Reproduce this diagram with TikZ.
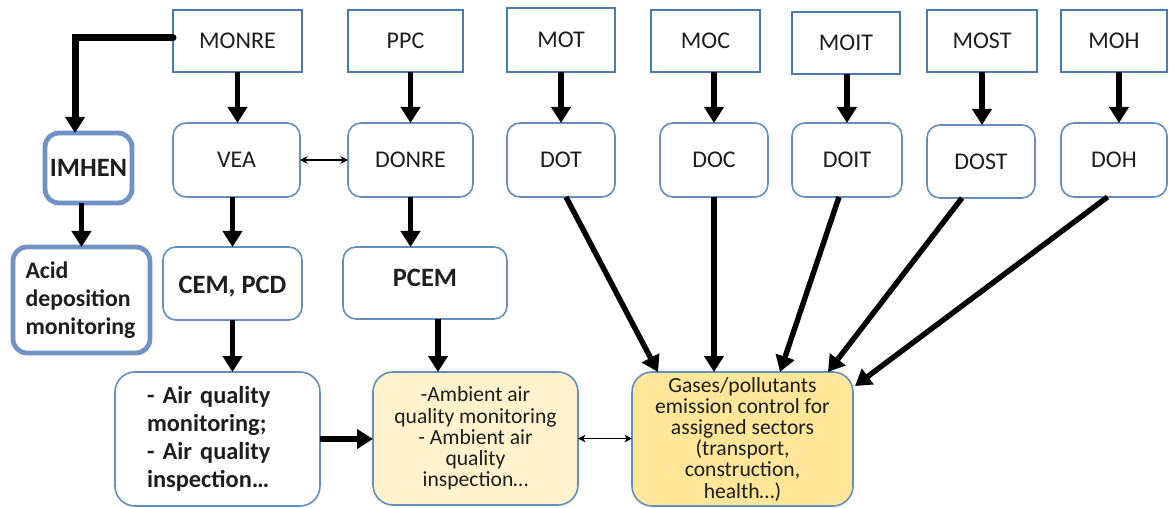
\documentclass[tikz,border=0pt]{standalone}
\usepackage{fontspec}
\setmainfont{Carlito}
\usetikzlibrary{arrows.meta}

\definecolor{boxblue}{HTML}{4A7AB0}
\definecolor{softblue}{HTML}{7092C6}
\definecolor{txt}{HTML}{1E1E1E}
\definecolor{paleyellow}{HTML}{FFF2CC}
\definecolor{goldyellow}{HTML}{FFE699}

\tikzset{
  sz/.style 2 args={minimum width=#1*0.5pt, minimum height=#2*0.5pt},
  base/.style={inner sep=0pt, outer sep=0pt, text=txt, fill=white,
               font=\fontsize{12}{14}\selectfont},
  ministry/.style={base, draw=boxblue, line width=1.3pt},
  dept/.style={base, draw=boxblue!85, line width=0.8pt, rounded corners=6.5pt},
  agency/.style={base, draw=softblue, line width=2.4pt, rounded corners=7pt,
                 font=\bfseries\fontsize{13.25}{15}\selectfont},
  boldlabel/.style={font=\bfseries\fontsize{13.25}{15}\selectfont},
  task/.style={base, draw=boxblue!85, line width=0.8pt, rounded corners=10pt,
               align=center, font=\fontsize{10.8}{10.6}\selectfont},
  flow/.style={line width=2.7pt, -{Triangle[length=8pt,width=9.5pt]}},
  link/.style={line width=0.7pt,
               {Stealth[length=3.8pt,width=3.8pt]}-{Stealth[length=3.8pt,width=3.8pt]}},
}

\begin{document}
\begin{tikzpicture}[x=0.5pt,y=-0.5pt]
\fill[white] (0,0) rectangle (1169,508);
\useasboundingbox (0,0) rectangle (1169,508);

% ministries
\node[ministry, sz={129}{62}] (monre) at (237.5,41) {MONRE};
\node[ministry, sz={115}{62}] (ppc)   at (405.5,41) {PPC};
\node[ministry, sz={108}{64}] (mot)   at (561,40)   {MOT};
\node[ministry, sz={109}{62}] (moc)   at (705.5,41) {MOC};
\node[ministry, sz={108}{62}] (moit)  at (846,43)   {MOIT};
\node[ministry, sz={110}{62}] (most)  at (982,41)   {MOST};
\node[ministry, sz={106}{62}] (moh)   at (1114,41)  {MOH};

% departments
\node[dept, sz={127}{74}] (vea)   at (236.5,160) {VEA};
\node[dept, sz={125}{74}] (donre) at (410.5,160) {DONRE};
\node[dept, sz={108}{74}] (dot)   at (561,160)   {DOT};
\node[dept, sz={108}{74}] (doc)   at (714,160)   {DOC};
\node[dept, sz={110}{74}] (doit)  at (847,160)   {DOIT};
\node[dept, sz={108}{73}] (dost)  at (981,161.5) {DOST};
\node[dept, sz={106}{74}] (doh)   at (1114,160)  {DOH};

% institutes and agencies
\node[agency, sz={87}{70}] (imhen) at (88.5,168) {IMHEN};
\node[agency, sz={137}{106}, align=left, text width=56pt,
      font=\bfseries\fontsize{11.9}{14}\selectfont] (acid) at (81.5,300)
      {Acid\\deposition\\monitoring};
\node[dept, boldlabel, sz={139}{73}] (cem) at (232.5,283.5)
      {\raisebox{-1.75pt}[\height][\depth]{CEM, PCD}};
\node[dept, boldlabel, sz={164}{72}] (pcem) at (425,283)
      {\raisebox{2.5pt}[\height][\depth]{PCEM}};

% tasks
\node[task, sz={205}{134}, align=left, text width=70.5pt,
      font=\bfseries\fontsize{12.2}{14}\selectfont] (air) at (217.5,439)
      {- Air quality\\monitoring;\\- Air quality\\inspection…};
\node[task, fill=paleyellow, sz={205}{133}] (amb) at (475.5,438.5)
      {-Ambient air\\quality monitoring\\- Ambient air\\quality\\inspection…};
\node[task, fill=goldyellow, sz={221}{134}] (gas) at (742.5,439)
      {Gases/pollutants\\emission control for\\assigned sectors\\(transport,\\construction,\\health…)};

% ministry -> department
\draw[flow] (monre.south) -- (monre.south |- vea.north);
\draw[flow] (donre.north |- ppc.south) -- (donre.north);
\draw[flow] (mot.south) -- (dot.north);
\draw[flow] (doc.north |- moc.south) -- (doc.north);
\draw[flow] (doit.north |- moit.south) -- (doit.north);
\draw[flow] (most.south) -- (most.south |- dost.north);
\draw[flow] ([xshift=2.5pt]moh.south) -- ([xshift=2.5pt]moh.south |- doh.north);

% MONRE branch
\draw[flow, line width=3.5pt, line cap=round]
  ([yshift=1.5pt]monre.west) -| ([xshift=-6.75pt]imhen.north);
\draw[flow] (acid.north |- imhen.south) -- (acid.north);
\draw[link] (vea.east) -- (donre.west);
\draw[flow] (cem.north |- vea.south) -- (cem.north);
\draw[flow] (donre.south) -- (donre.south |- pcem.north);
\draw[flow] (cem.south) -- (cem.south |- air.north);
\draw[flow] ([xshift=6.5pt]pcem.south) -- ([xshift=6.5pt]pcem.south |- amb.north);
\draw[flow] (air.east) -- (air.east -| amb.west);
\draw[link] (amb.east) -- (amb.east -| gas.west);

% sector departments -> emission control
\draw[flow] ([xshift=2.5pt]dot.south) -- ([xshift=13pt]gas.north west);
\draw[flow] (doc.south) -- (doc.south |- gas.north);
\draw[flow] ([xshift=-4pt]doit.south) -- ([xshift=74pt]gas.north west);
\draw[flow] ([xshift=-9.5pt]dost.south) -- ([xshift=98pt]gas.north west);
\draw[flow] ([xshift=-3.25pt]doh.south) -- ([xshift=1pt,yshift=-7pt]gas.north east);
\end{tikzpicture}
\end{document}
